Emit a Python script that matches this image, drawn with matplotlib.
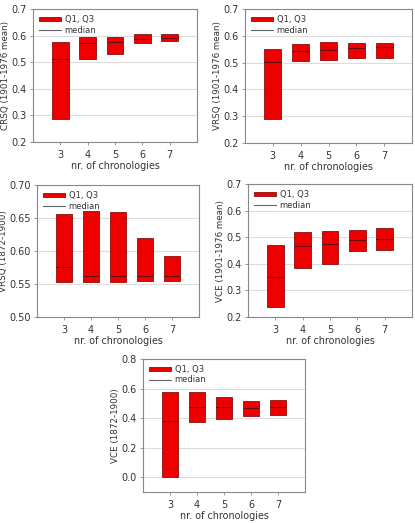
import numpy as np
import matplotlib
matplotlib.use('Agg')
import matplotlib.pyplot as plt

n_chron = [3, 4, 5, 6, 7]

crsq_q1 = [0.288, 0.512, 0.531, 0.571, 0.578]
crsq_q3 = [0.575, 0.594, 0.594, 0.607, 0.607]
crsq_med = [0.511, 0.572, 0.575, 0.588, 0.590]

vrsq_q1 = [0.290, 0.506, 0.510, 0.516, 0.516]
vrsq_q3 = [0.551, 0.571, 0.575, 0.572, 0.575]
vrsq_med = [0.504, 0.545, 0.547, 0.554, 0.557]

vrsq_early_q1 = [0.553, 0.553, 0.553, 0.554, 0.554]
vrsq_early_q3 = [0.6556, 0.6606, 0.659, 0.6197, 0.593]
vrsq_early_med = [0.576, 0.562, 0.562, 0.562, 0.562]

vce_q1 = [0.238, 0.385, 0.400, 0.448, 0.453]
vce_q3 = [0.469, 0.521, 0.525, 0.528, 0.533]
vce_med = [0.350, 0.468, 0.474, 0.491, 0.494]

vce_early_q1 = [0.0, 0.374, 0.397, 0.413, 0.424]
vce_early_q3 = [0.578, 0.578, 0.544, 0.515, 0.522]
vce_early_med = [0.378, 0.476, 0.476, 0.471, 0.476]

W, H = 415, 523
fig = plt.figure(figsize=(W / 100, H / 100), dpi=100)
fig.patch.set_facecolor('white')


def pix_axes(left, right, top, bottom):
    return fig.add_axes([left / W, 1 - bottom / H, (right - left) / W, (bottom - top) / H])


def box_panel(ax, q1, q3, med, ylabel, ylim, yticks, yfmt):
    q1 = np.array(q1)
    q3 = np.array(q3)
    x = np.array(n_chron)
    bars = ax.bar(x, q3 - q1, bottom=q1, width=0.6, color='#ee0000',
                  edgecolor='#8a1010', linewidth=0.6, zorder=3)
    ax.hlines(med, x - 0.3, x + 0.3, color='#6a0a0a', linewidth=0.8, zorder=4)
    med_line, = ax.plot([], [], color='#666666', linewidth=0.8)
    ax.set_xlim(2, 8)
    ax.set_ylim(*ylim)
    ax.set_xticks(n_chron)
    ax.set_yticks(yticks)
    ax.set_yticklabels([yfmt % v for v in yticks])
    ax.yaxis.grid(True, color='#dddddd', linewidth=0.8, zorder=0)
    ax.set_axisbelow(True)
    for s in ax.spines.values():
        s.set_color('#888888')
        s.set_linewidth(0.8)
    ax.tick_params(direction='out', length=2.5, width=0.6, color='#888888',
                   labelsize=7, labelcolor='#333333', pad=2)
    ax.tick_params(axis='x', pad=3)
    ax.set_xlabel('nr. of chronologies', fontsize=6.9, color='#333333', labelpad=1)
    ax.set_ylabel(ylabel, fontsize=6.3, color='#333333', labelpad=1)
    ax.legend([bars, med_line], ['Q1, Q3', 'median'], loc='upper left',
              frameon=False, fontsize=6, handlelength=2.6, handleheight=0.5,
              borderaxespad=0.3, labelspacing=0.2, handletextpad=0.5,
              labelcolor='#333333')


ax1 = pix_axes(33, 197, 9, 142)
box_panel(ax1, crsq_q1, crsq_q3, crsq_med, 'CRSQ (1901-1976 mean)',
          (0.2, 0.7), [0.2, 0.3, 0.4, 0.5, 0.6, 0.7], '%.1f')

ax2 = pix_axes(245, 412, 9, 143)
box_panel(ax2, vrsq_q1, vrsq_q3, vrsq_med, 'VRSQ (1901-1976 mean)',
          (0.2, 0.7), [0.2, 0.3, 0.4, 0.5, 0.6, 0.7], '%.1f')

ax3 = pix_axes(37, 199, 185, 317)
box_panel(ax3, vrsq_early_q1, vrsq_early_q3, vrsq_early_med, 'VRSQ (1872-1900)',
          (0.5, 0.7), [0.50, 0.55, 0.60, 0.65, 0.70], '%.2f')

ax4 = pix_axes(248, 412, 184, 317)
box_panel(ax4, vce_q1, vce_q3, vce_med, 'VCE (1901-1976 mean)',
          (0.2, 0.7), [0.2, 0.3, 0.4, 0.5, 0.6, 0.7], '%.1f')

ax5 = pix_axes(143, 305, 359, 492)
box_panel(ax5, vce_early_q1, vce_early_q3, vce_early_med, 'VCE (1872-1900)',
          (-0.1, 0.8), [0.0, 0.2, 0.4, 0.6, 0.8], '%.1f')

fig.savefig('out.png', dpi=100)
